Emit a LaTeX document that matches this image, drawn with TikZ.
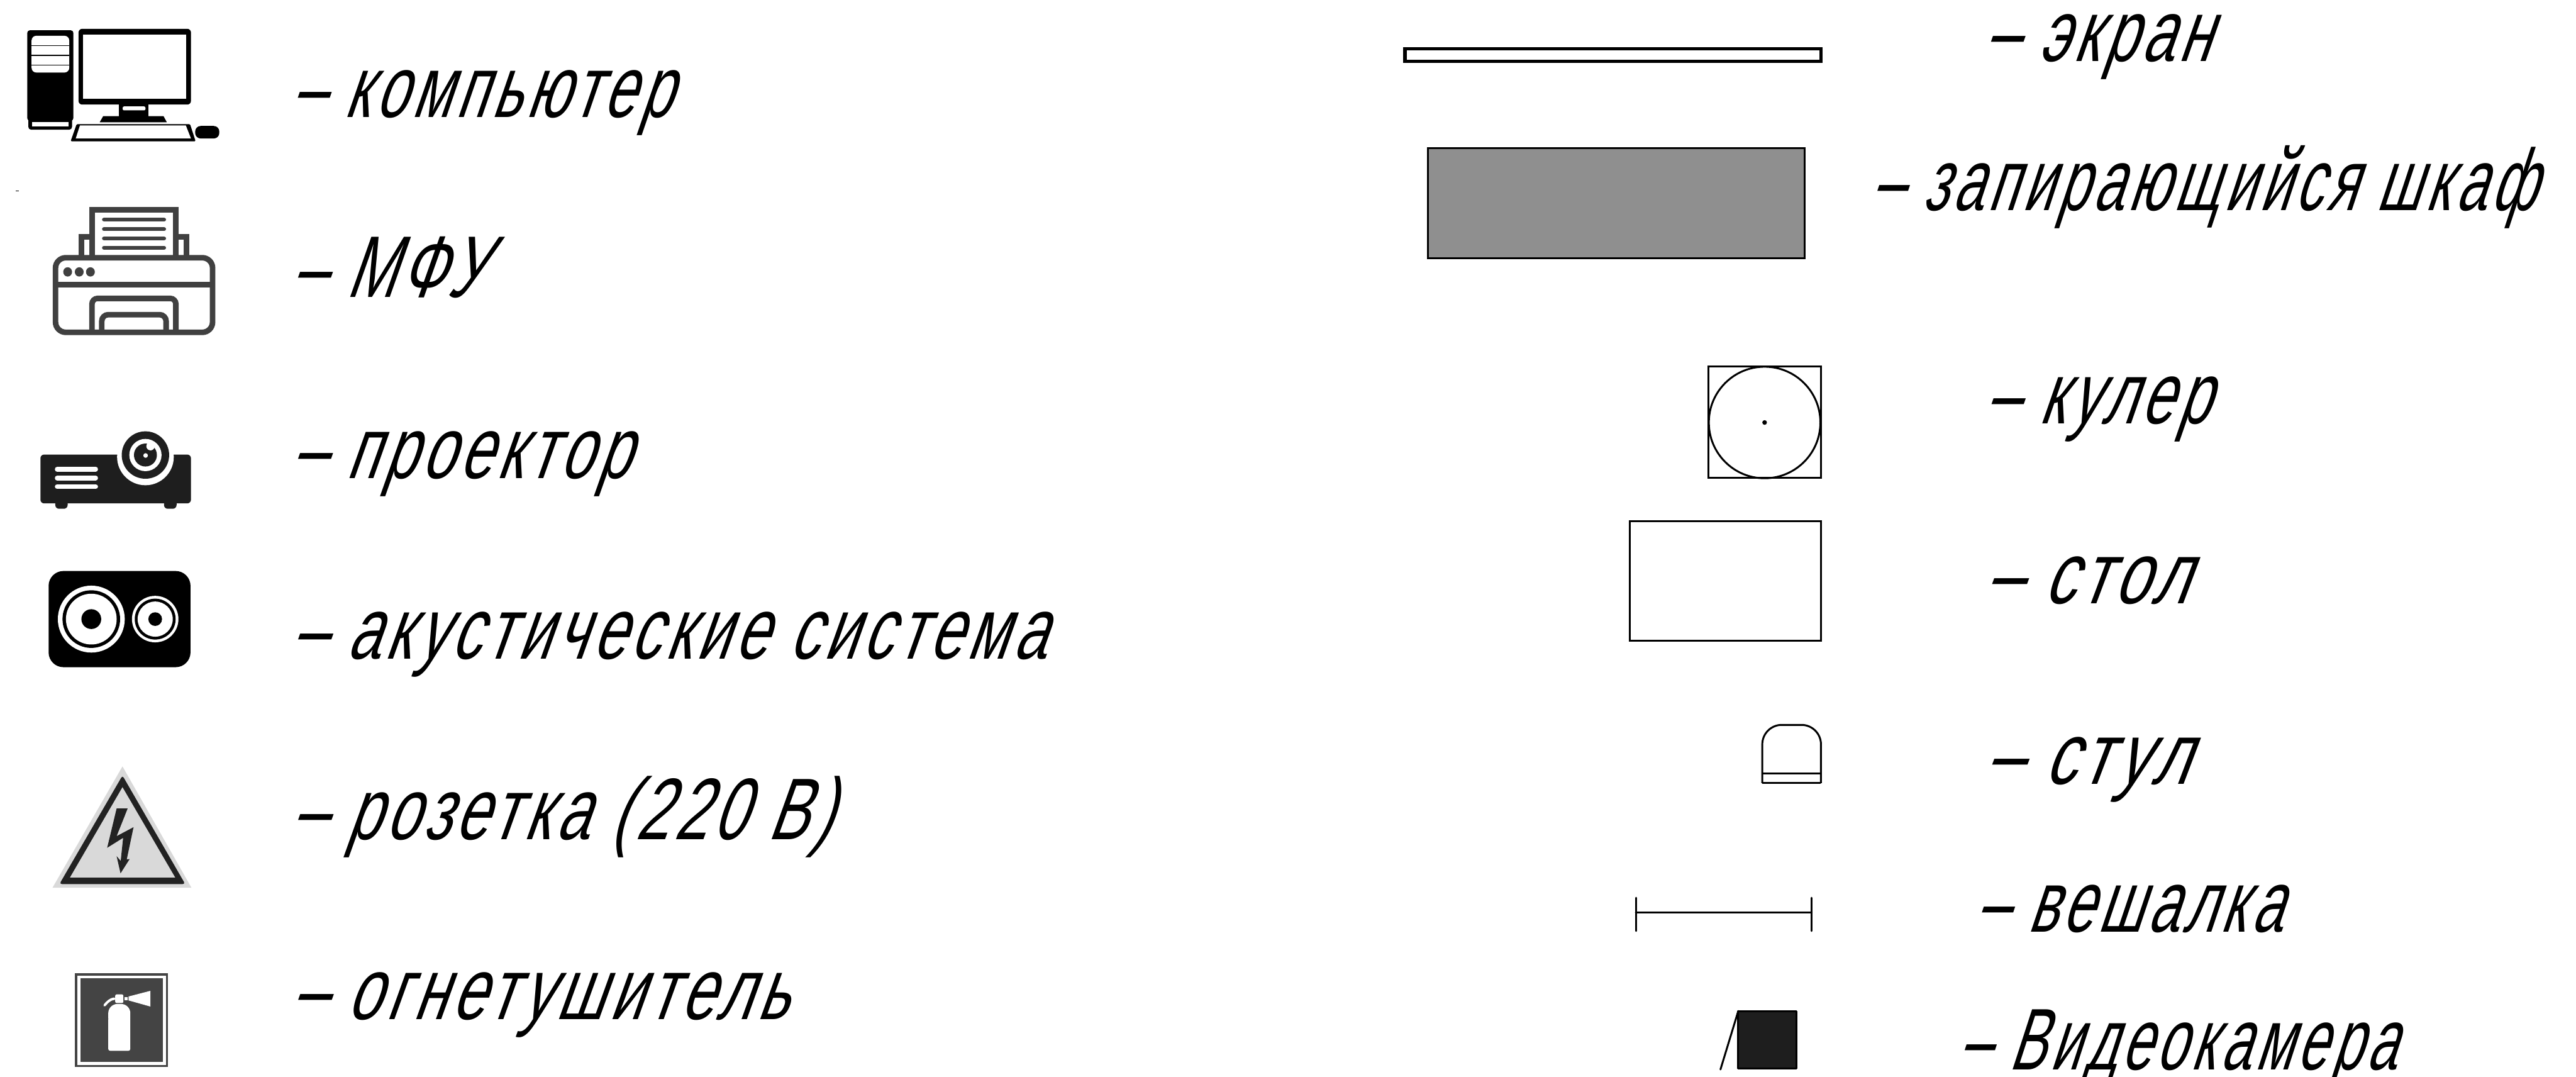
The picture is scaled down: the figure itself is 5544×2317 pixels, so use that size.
\documentclass[tikz,border=0pt]{standalone}
\usepackage{fontspec}
\usepackage{graphicx}
\newfontfamily\legendfont[FakeSlant=0.52, LetterSpace=8]{Liberation Sans}
\newlength{\legendunit}
\setlength{\legendunit}{0.1mm}
\definecolor{printgray}{HTML}{404040}
\definecolor{softblack}{HTML}{1E1E1E}
\definecolor{signgray}{HTML}{D9D9D9}
\definecolor{signblack}{HTML}{222222}
\definecolor{firegray}{HTML}{444444}
\definecolor{lockgray}{HTML}{8F8F8F}
\tikzset{
  legendtext/.style={anchor=base west, inner sep=0pt, font=\legendfont\fontsize{53.5}{60}\selectfont},
  planline/.style={draw=black, line width=1.14pt},
  printline/.style={draw=printgray, line width=3.4pt}
}
\begin{document}
\begin{tikzpicture}[x=0.01cm, y=-0.01cm]
  \useasboundingbox (0,0) rectangle (5544,2317);
  \fill[white] (0,0) rectangle (5544,2317);

  % computer
  \fill[rounded corners=0.06cm] (58.6,65) rectangle (158,260);
  \fill[rounded corners=0.06cm] (61,250) rectangle (155,279);
  \fill[white, rounded corners=0.1cm] (68,77) rectangle (149,156);
  \foreach \y in {98,119,140} {
    \fill (68,\y-1.2) rectangle (149,\y+1.2);
  }
  \fill[white] (69,263) rectangle (148,271.5);
  \fill[rounded corners=0.08cm] (169,62) rectangle (411,225);
  \fill[white] (179,74) rectangle (401,212);
  \fill (256,225) rectangle (320,252);
  \fill[white, rounded corners=0.03cm] (264,229) rectangle (313,237.5);
  \fill (222,250) -- (214.6,263) -- (359,263) -- (352,250) -- cycle;
  \fill[rounded corners=0.02cm] (165,267) -- (409,267) -- (421,304) -- (152,304) -- cycle;
  \fill[white] (172,270) -- (400,270) -- (411,298) -- (163,298) -- cycle;
  \fill[rounded corners=0.12cm] (420,271) rectangle (472,298);

  % speck
  \fill (34,410) rectangle (41,412);

  % printer
  \draw[printline, rounded corners=0.22cm] (119.5,554.5) rectangle (457.5,715);
  \draw[printline] (119.5,612) -- (457.5,612);
  \draw[printline] (198,554) -- (198,451.5) -- (378.5,451.5) -- (378.5,554);
  \draw[printline] (198,510) -- (175,510) -- (175,554);
  \draw[printline] (378.5,510) -- (401.5,510) -- (401.5,554);
  \foreach \y in {472.6,493,513,533} {
    \draw[draw=printgray, line width=2.5pt, line cap=round] (224,\y) -- (353,\y);
  }
  \foreach \x in {145.6,170.5,194.6} {
    \fill[printgray] (\x,585) ellipse (9.5 and 10);
  }
  \draw[printline, rounded corners=0.12cm] (198,715) -- (198,642) -- (378.5,642) -- (378.5,715);
  \draw[printline, rounded corners=0.14cm] (219,715) -- (219,677) -- (357.5,677) -- (357.5,715);

  % projector
  \fill[softblack, rounded corners=0.08cm] (119,1070) rectangle (145.6,1094.6);
  \fill[softblack, rounded corners=0.08cm] (353,1070) rectangle (380,1094.6);
  \fill[softblack, rounded corners=0.08cm] (87,978) rectangle (411,1083);
  \fill[white] (313,983) circle (61);
  \fill[softblack] (313,979) circle (51);
  \fill[white] (313,979) circle (34.7);
  \fill[softblack] (313,979) circle (24.7);
  \fill[white] (324,960) circle (9);
  \fill[white] (313.4,980) circle (5);
  \foreach \y in {1009.6,1028.5,1047} {
    \draw[white, line width=2.8pt, line cap=round] (123,\y) -- (206,\y);
  }

  % speakers
  \fill[rounded corners=0.32cm] (104.6,1228.5) rectangle (410,1435.5);
  \foreach \r/\c in {72/white,62/black,54.6/white,21.3/black} {
    \fill[\c] (196.5,1332) circle (\r);
  }
  \foreach \r/\c in {50/white,44/black,37.8/white,14.7/black} {
    \fill[\c] (334,1332) circle (\r);
  }

  % socket sign
  \fill[signgray] (263.6,1649) -- (412,1910) -- (113,1910) -- cycle;
  \fill[signblack, rounded corners=0.05cm] (263.6,1668.6) -- (398.5,1902) -- (128,1902) -- cycle;
  \fill[signgray] (263.6,1693.7) -- (377,1888) -- (150.6,1888) -- cycle;
  \fill[signblack] (251,1739.5) -- (274.7,1739.5) -- (251,1799) -- (287.4,1779.7) -- (272.8,1849)
    -- (279,1848.3) -- (259.4,1879) -- (251,1842) -- (259.8,1852.4) -- (265,1802.6) -- (230.7,1824) -- cycle;

  % extinguisher sign
  \fill[firegray] (161,2094) rectangle (361,2296);
  \fill[white] (166.7,2099) rectangle (357,2291);
  \fill[firegray] (172.8,2105) rectangle (351,2285);
  \fill[white, rounded corners=0.2cm] (233,2210) -- (233,2160) -- (280.5,2160) -- (280.5,2210) -- cycle;
  \fill[white, rounded corners=0.04cm] (233,2190) rectangle (280.5,2260.7);
  \fill[white, rounded corners=0.03cm] (248,2139.5) rectangle (265.5,2158);
  \fill[white] (267.4,2145) rectangle (274.3,2152);
  \fill[white] (276.6,2144) -- (323.7,2131.8) -- (323.7,2165.6) -- (276.6,2152.4) -- cycle;
  \draw[white, line width=1.5pt, line cap=round] (246,2148.7) .. controls (236,2150) and (231,2156) .. (225,2163);

  % screen and cabinet
  \draw[draw=black, line width=2.2pt, fill=white] (3023.5,105) rectangle (3919,132);
  \draw[planline, fill=lockgray] (3073,318.5) rectangle (3884,556);

  % cooler
  \draw[planline] (3677,789) rectangle (3919,1028);
  \draw[planline] (3797.7,909) circle (120);
  \fill (3797.7,909) circle (5);

  % table
  \draw[planline] (3508,1121.5) rectangle (3919,1379);

  % chair
  \draw[planline, rounded corners=0.42cm] (3792.7,1685) -- (3792.7,1559.6) -- (3919,1559.6) -- (3919,1685);
  \draw[planline] (3792.7,1685) -- (3919,1685);
  \draw[planline] (3792.7,1663.5) -- (3919,1663.5);

  % hanger
  \draw[planline, line cap=round] (3520.7,1962.7) -- (3899,1962.7);
  \draw[planline, line cap=round] (3520.7,1931.7) -- (3520.7,2003);
  \draw[planline, line cap=round] (3899,1931.7) -- (3899,2003);

  % camera
  \draw[planline, fill=softblack, line join=round] (3741,2175.3) rectangle (3865.7,2299);
  \draw[planline, line cap=round] (3741,2175.3) -- (3702.7,2301);

  % labels
  \foreach \n/\x/\y/\w/\lbl in {
    pc/626/253/817/{– компьютер},
    mfu/626/640/414/{– МФУ},
    proj/626/1029.5/728/{– проектор},
    acoustic/626/1418/1622/{– акустические система},
    socket/626/1806/1163/{– розетка (220 В)},
    fire/626/2193/1068/{– огнетушитель},
    screen/4270/132/486/{– экран},
    cabinet/4027/453/1428/{– запирающийся шкаф},
    cooler/4272/912/482/{– кулер},
    table/4272/1298/436/{– стол},
    chair/4272/1687/436/{– стул},
    hanger/4251/2005/659/{– вешалка},
    camera/4215/2302/940/{– Видеокамера}} {
    \node[legendtext] (lbl\n) at (\x,\y) {\resizebox{\w\legendunit}{\height}{\lbl}};
  }
\end{tikzpicture}
\end{document}
